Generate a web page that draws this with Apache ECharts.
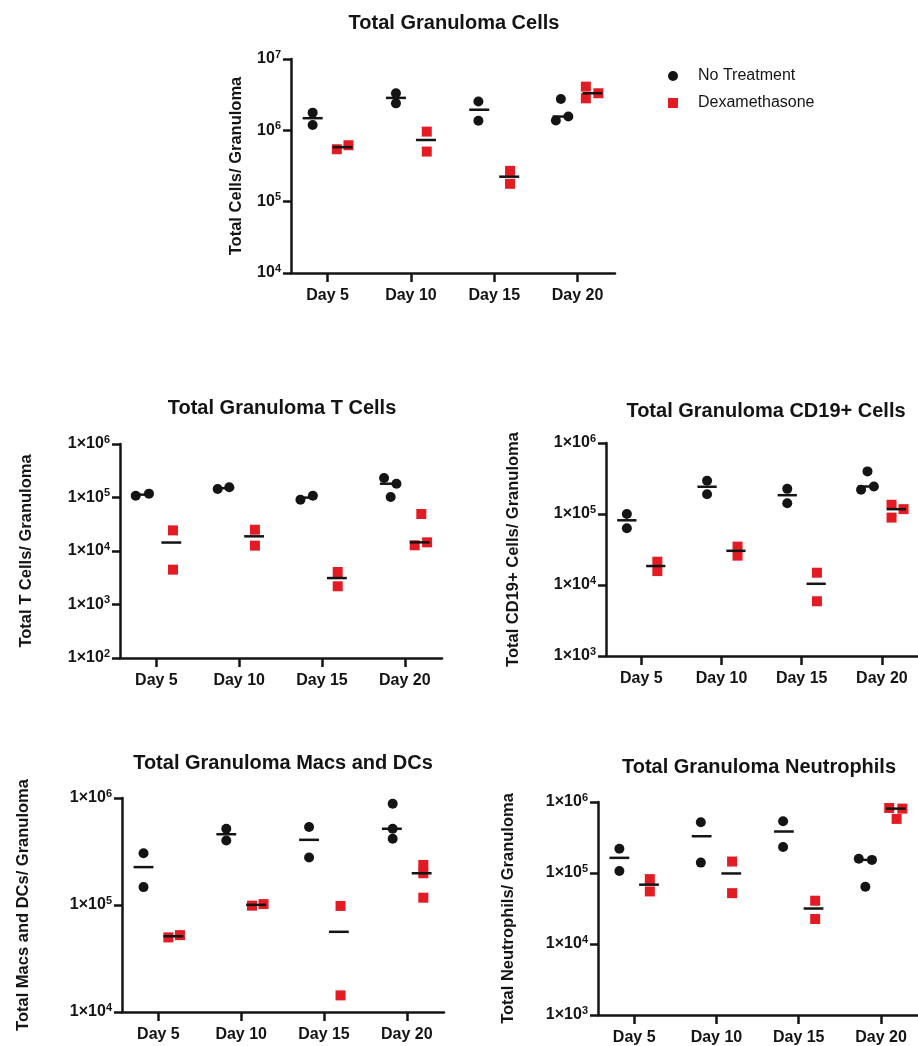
<!DOCTYPE html>
<html><head><meta charset="utf-8">
<script src="https://cdn.jsdelivr.net/npm/echarts@6/dist/echarts.min.js"></script>
<style>html,body{margin:0;padding:0;background:#fff}#c{width:918px;height:1046px}</style>
</head><body><div id="c"></div>
<script>
// ---------- data ----------
const days = ['Day 5', 'Day 10', 'Day 15', 'Day 20'];
const groupNames = ['No Treatment', 'Dexamethasone'];

// Total granuloma cells
const cellsNoTx = [[1.77e6, 1.19e6], [3.31e6, 2.39e6], [2.53e6, 1.36e6], [2.75e6, 1.37e6, 1.56e6]];
const cellsDex  = [[5.43e5, 6.18e5], [9.6e5, 5.04e5], [2.70e5, 1.78e5], [4.10e6, 2.81e6, 3.31e6]];
// T cells
const tNoTx = [[1.08e5, 1.18e5], [1.44e5, 1.55e5], [9.1e4, 1.08e5], [2.31e5, 1.81e5, 1.02e5]];
const tDex  = [[2.43e4, 4.48e3], [2.5e4, 1.26e4], [4.05e3, 2.19e3], [4.92e4, 1.28e4, 1.45e4]];
// CD19+ cells
const bNoTx = [[1.0e5, 6.3e4], [2.94e5, 1.90e5], [2.26e5, 1.42e5], [3.98e5, 2.19e5, 2.44e5]];
const bDex  = [[2.13e4, 1.57e4], [3.47e4, 2.59e4], [1.49e4, 5.9e3], [1.35e5, 8.9e4, 1.17e5]];
// Macs and DCs
const mNoTx = [[3.05e5, 1.47e5], [5.16e5, 4.01e5], [5.35e5, 2.78e5], [8.85e5, 5.16e5, 4.16e5]];
const mDex  = [[4.98e4, 5.23e4], [9.86e4, 1.02e5], [9.8e4, 1.43e4], [2.37e5, 1.98e5, 1.17e5]];
// Neutrophils
const nNoTx = [[2.2e5, 1.07e5], [5.19e5, 1.40e5], [5.36e5, 2.32e5], [1.59e5, 1.53e5, 6.4e4]];
const nDex  = [[8.2e4, 5.5e4], [1.45e5, 5.2e4], [4.07e4, 2.25e4], [8.24e5, 8.07e5, 5.78e5]];

// ---------- horizontal scatter (jitter, in category units) ----------
const cellsNoTxJit = [[-0.18, -0.18], [-0.18, -0.18], [-0.19, -0.19], [-0.20, -0.26, -0.11]];
const cellsDexJit  = [[0.11, 0.25], [0.19, 0.19], [0.19, 0.19], [0.10, 0.10, 0.25]];
const tNoTxJit = [[-0.25, -0.09], [-0.26, -0.12], [-0.26, -0.11], [-0.25, -0.10, -0.17]];
const tDexJit  = [[0.2, 0.2], [0.19, 0.19], [0.19, 0.19], [0.20, 0.12, 0.27]];
const bNoTxJit = [[-0.18, -0.18], [-0.18, -0.18], [-0.18, -0.18], [-0.18, -0.26, -0.10]];
const bDexJit  = [[0.2, 0.2], [0.2, 0.2], [0.19, 0.19], [0.12, 0.12, 0.27]];
const mNoTxJit = [[-0.18, -0.18], [-0.18, -0.18], [-0.18, -0.18], [-0.17, -0.17, -0.17]];
const mDexJit  = [[0.12, 0.26], [0.13, 0.27], [0.2, 0.2], [0.2, 0.2, 0.2]];
const nNoTxJit = [[-0.18, -0.18], [-0.19, -0.19], [-0.19, -0.19], [-0.27, -0.11, -0.19]];
const nDexJit  = [[0.19, 0.19], [0.19, 0.19], [0.2, 0.2], [0.10, 0.26, 0.19]];

// ---------- layout ----------
const FONT = '"Liberation Sans", Arial, sans-serif';
const INK = '#141414';
const RED = '#e31b23';
const panels = [
  {title: 'Total Granuloma Cells', yName: 'Total Cells/ Granuloma', noTx: cellsNoTx, noTxJit: cellsNoTxJit, dex: cellsDex, dexJit: cellsDexJit,
   yMin: 1e4, yMax: 1e7, sci: false, grid: {left: 291, top: 59, width: 324, height: 214}, tc: [454, 23], nameGap: 46},
  {title: 'Total Granuloma T Cells', yName: 'Total T Cells/ Granuloma', noTx: tNoTx, noTxJit: tNoTxJit, dex: tDex, dexJit: tDexJit,
   yMin: 1e2, yMax: 1e6, sci: true, grid: {left: 120, top: 444, width: 322, height: 214}, tc: [282, 408], nameGap: 85},
  {title: 'Total Granuloma CD19+ Cells', yName: 'Total CD19+ Cells/ Granuloma', noTx: bNoTx, noTxJit: bNoTxJit, dex: bDex, dexJit: bDexJit,
   yMin: 1e3, yMax: 1e6, sci: true, grid: {left: 606, top: 443, width: 318, height: 213}, tc: [766, 411], nameGap: 84},
  {title: 'Total Granuloma Macs and DCs', yName: 'Total Macs and DCs/ Granuloma', noTx: mNoTx, noTxJit: mNoTxJit, dex: mDex, dexJit: mDexJit,
   yMin: 1e4, yMax: 1e6, sci: true, grid: {left: 122, top: 798, width: 322, height: 214}, tc: [283, 763], nameGap: 90},
  {title: 'Total Granuloma Neutrophils', yName: 'Total Neutrophils/ Granuloma', noTx: nNoTx, noTxJit: nNoTxJit, dex: nDex, dexJit: nDexJit,
   yMin: 1e3, yMax: 1e6, sci: true, grid: {left: 598, top: 802, width: 322, height: 215}, tc: [759, 767], nameGap: 81}
];
const X_MIN = 0.56, X_MAX = 4.45, GROUP_OFF = 0.18, MED_HALF = 0.12;

function median(a) {
  const s = a.slice().sort((p, q) => p - q);
  const m = Math.floor(s.length / 2);
  return s.length % 2 ? s[m] : (s[m - 1] + s[m]) / 2;
}
function points(vals, jit) {
  const out = [];
  vals.forEach((g, i) => g.forEach((v, j) => out.push([i + 1 + jit[i][j], v])));
  return out;
}

const option = {
  backgroundColor: '#fff',
  animation: false,
  title: [], grid: [], xAxis: [], yAxis: [], series: [],
  legend: {
    data: [{name: groupNames[0], icon: 'circle'}, {name: groupNames[1], icon: 'rect'}],
    orient: 'vertical', left: 663, top: 63, itemWidth: 10, itemHeight: 10, itemGap: 11,
    formatter: n => '{t|' + n + '}',
    textStyle: {rich: {t: {fontFamily: FONT, fontSize: 16, color: INK, padding: [0, 0, 0, 15]}}},
    selectedMode: false
  }
};

panels.forEach((p, k) => {
  option.title.push({
    text: p.title, left: p.tc[0], top: p.tc[1] - 11, textAlign: 'center', padding: 0,
    textStyle: {fontFamily: FONT, fontSize: 20, fontWeight: 'bold', color: INK, lineHeight: 22}
  });
  option.grid.push(Object.assign({containLabel: false}, p.grid));
  option.xAxis.push({
    gridIndex: k, type: 'value', min: X_MIN, max: X_MAX,
    axisLine: {show: true, lineStyle: {color: INK, width: 2.5}},
    axisTick: {show: true, customValues: [1, 2, 3, 4], length: 9, lineStyle: {color: INK, width: 2.5}},
    axisLabel: {show: true, customValues: [1, 2, 3, 4], margin: 15, formatter: v => days[Math.round(v) - 1],
      fontFamily: FONT, fontSize: 16, fontWeight: 'bold', color: INK},
    splitLine: {show: false}
  });
  option.yAxis.push({
    gridIndex: k, type: 'log', logBase: 10, min: p.yMin, max: p.yMax,
    name: p.yName, nameLocation: 'middle', nameGap: p.nameGap,
    nameTextStyle: {fontFamily: FONT, fontSize: 16.5, fontWeight: 'bold', color: INK},
    axisLine: {show: true, lineStyle: {color: INK, width: 2.5}},
    axisTick: {show: true, length: 8, lineStyle: {color: INK, width: 2.5}},
    minorTick: {show: false},
    splitLine: {show: false},
    axisLabel: {
      margin: 10,
      formatter: v => {
        const e = Math.round(Math.log10(v));
        return (p.sci ? '{b|1×10}' : '{b|10}') + '{s|' + e + '}';
      },
      rich: {
        b: {fontFamily: FONT, fontSize: 16, fontWeight: 'bold', color: INK},
        s: {fontFamily: FONT, fontSize: 11, fontWeight: 'bold', color: INK, padding: [0, 0, 9, 0]}
      }
    }
  });
  option.series.push({
    name: groupNames[0], type: 'scatter', xAxisIndex: k, yAxisIndex: k,
    symbol: 'circle', symbolSize: 10, itemStyle: {color: INK, opacity: 1},
    data: points(p.noTx, p.noTxJit), z: 3
  });
  option.series.push({
    name: groupNames[1], type: 'scatter', xAxisIndex: k, yAxisIndex: k,
    symbol: 'rect', symbolSize: 10, itemStyle: {color: RED, opacity: 1},
    data: points(p.dex, p.dexJit), z: 3
  });
  const meds = [];
  p.noTx.forEach((g, i) => meds.push([i + 1 - GROUP_OFF, median(g)]));
  p.dex.forEach((g, i) => meds.push([i + 1 + GROUP_OFF, median(g)]));
  option.series.push({
    type: 'custom', xAxisIndex: k, yAxisIndex: k, z: 5, silent: true,
    data: meds,
    renderItem: (params, api) => {
      const x = api.value(0), y = api.value(1);
      const a = api.coord([x - MED_HALF, y]), b = api.coord([x + MED_HALF, y]);
      return {type: 'line', shape: {x1: a[0], y1: a[1], x2: b[0], y2: b[1]},
        style: {stroke: INK, lineWidth: 2.5}};
    }
  });
});

const chart = echarts.init(document.getElementById('c'), null, {renderer: 'canvas'});
chart.setOption(option);
</script>
</body></html>
